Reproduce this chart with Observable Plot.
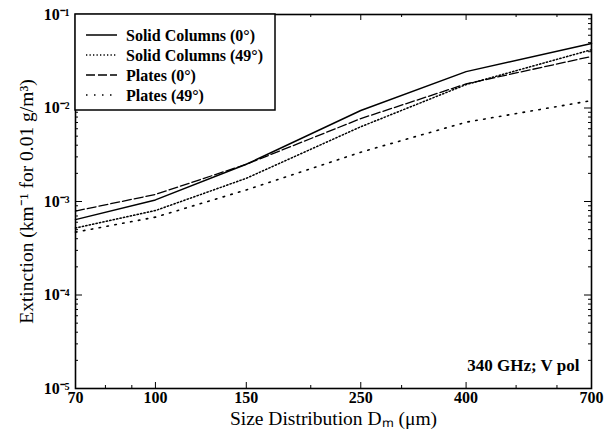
<!DOCTYPE html>
<html><head><meta charset="utf-8">
<script src="https://cdn.jsdelivr.net/npm/d3@7"></script>
<script src="https://cdn.jsdelivr.net/npm/@observablehq/plot@0.6"></script>
<style>
body{margin:0;background:#fff}
#chart{width:613px;height:431px}
#chart svg{font-family:"Liberation Serif","Times New Roman",serif}
</style>
</head><body><div id="chart"></div>
<script>
const sizes = [70, 100, 150, 250, 400, 700];
const solidColumns0 = [6.4e-4, 1.04e-3, 2.5e-3, 9.4e-3, 0.0245, 0.049];
const solidColumns49 = [5.2e-4, 8.0e-4, 1.77e-3, 6.3e-3, 0.0178, 0.042];
const plates0 = [7.9e-4, 1.19e-3, 2.5e-3, 7.7e-3, 0.0181, 0.0356];
const plates49 = [4.7e-4, 6.8e-4, 1.33e-3, 3.37e-3, 7.05e-3, 0.012];
const seriesNames = ["Solid Columns (0°)", "Solid Columns (49°)", "Plates (0°)", "Plates (49°)"];
const xTicks = [70, 100, 150, 250, 400, 700];
const xMinorTicks = [80, 90, 200, 300, 500, 600];
const yTicks = [1e-5, 1e-4, 1e-3, 1e-2, 1e-1];
const yTickLabels = ["10⁻⁵", "10⁻⁴", "10⁻³", "10⁻²", "10⁻¹"];
const yMinorTicks = [1e-5, 1e-4, 1e-3, 1e-2].flatMap(d => [2,3,4,5,6,7,8,9].map(k => k * d));
const annotation = "340 GHz; V pol";
const xLabel = "Size Distribution Dₘ (μm)";
const yLabel = "Extinction (km⁻¹ for 0.01 g/m³)";

const allSeries = [solidColumns0, solidColumns49, plates0, plates49];
const styles = [
  {strokeWidth: 1.5, strokeDasharray: null},
  {strokeWidth: 1.5, strokeDasharray: "1.3,2.2"},
  {strokeWidth: 1.3, strokeDasharray: "9,3"},
  {strokeWidth: 1.6, strokeDasharray: "1.5,6.5"}
];
const rows = allSeries.flatMap((vals, s) => vals.map((v, i) => ({series: seriesNames[s], size: sizes[i], value: v})));

const W = 613, H = 431, mL = 75, mR = 22, mT = 14, mB = 43;
const pw = W - mL - mR, ph = H - mT - mB;

const lineMarks = seriesNames.map((name, s) =>
  Plot.line(rows.filter(r => r.series === name), {x: "size", y: "value", stroke: "black", ...styles[s]})
);

const plot = Plot.plot({
  width: W, height: H,
  marginLeft: mL, marginRight: mR, marginTop: mT, marginBottom: mB,
  x: {type: "log", domain: [70, 700]},
  y: {type: "log", domain: [1e-5, 1e-1]},
  style: {fontFamily: "Liberation Serif, Times New Roman, serif", fontSize: "15px", color: "black", background: "white"},
  marks: [
    ...lineMarks,
    // inward ticks
    Plot.tickY(yTicks, {y: d => d, insetRight: pw - 7, stroke: "black"}),
    Plot.tickY(yTicks, {y: d => d, insetLeft: pw - 7, stroke: "black"}),
    Plot.tickY(yMinorTicks, {y: d => d, insetRight: pw - 3, stroke: "black"}),
    Plot.tickY(yMinorTicks, {y: d => d, insetLeft: pw - 3, stroke: "black"}),
    Plot.tickX(xTicks, {x: d => d, insetTop: ph - 6, stroke: "black"}),
    Plot.tickX(xTicks, {x: d => d, insetBottom: ph - 6, stroke: "black"}),
    Plot.tickX(xMinorTicks, {x: d => d, insetTop: ph - 3, stroke: "black"}),
    Plot.tickX(xMinorTicks, {x: d => d, insetBottom: ph - 3, stroke: "black"}),
    Plot.axisY({ticks: yTicks, tickFormat: d => yTickLabels[yTicks.indexOf(d)], tickSize: 0, tickPadding: 6, label: yLabel, labelAnchor: "center", labelArrow: "none", labelOffset: 56, fontSize: 16}),
    Plot.axisX({ticks: xTicks, tickFormat: d => String(d), tickSize: 0, tickPadding: 3, label: xLabel, labelAnchor: "center", labelOffset: 36, labelArrow: "none", fontSize: 16}),
    Plot.frame({stroke: "black", strokeWidth: 1.6}),
    Plot.text([annotation], {text: d => d, frameAnchor: "bottom-right", dx: -12, dy: -18, textAnchor: "end", fontSize: 17, fontWeight: "bold"})
  ]
});
document.getElementById("chart").appendChild(plot);

const svg = d3.select(plot);
// tick labels bold like the scan, axis titles larger
svg.selectAll('g[aria-label="y-axis tick label"] text, g[aria-label="x-axis tick label"] text')
  .attr("font-weight", "bold");
svg.selectAll('g[aria-label="y-axis label"] text, g[aria-label="x-axis label"] text')
  .attr("font-size", 19.5);

// legend box inside the plot
const lg = svg.append("g").attr("transform", `translate(${mL},${mT})`).attr("text-anchor", "start");
lg.append("rect").attr("x", 0).attr("y", 0).attr("width", 200).attr("height", 96)
  .attr("fill", "white").attr("stroke", "black").attr("stroke-width", 1.5);
seriesNames.forEach((name, i) => {
  const y = 21 + i * 20;
  lg.append("line").attr("x1", 11).attr("x2", 42).attr("y1", y).attr("y2", y)
    .attr("stroke", "black").attr("stroke-width", styles[i].strokeWidth)
    .attr("stroke-dasharray", styles[i].strokeDasharray);
  lg.append("text").attr("x", 51).attr("y", y).attr("dy", "0.35em")
    .attr("font-size", 16).attr("font-weight", "bold").attr("fill", "black").text(name);
});
</script>
</body></html>
